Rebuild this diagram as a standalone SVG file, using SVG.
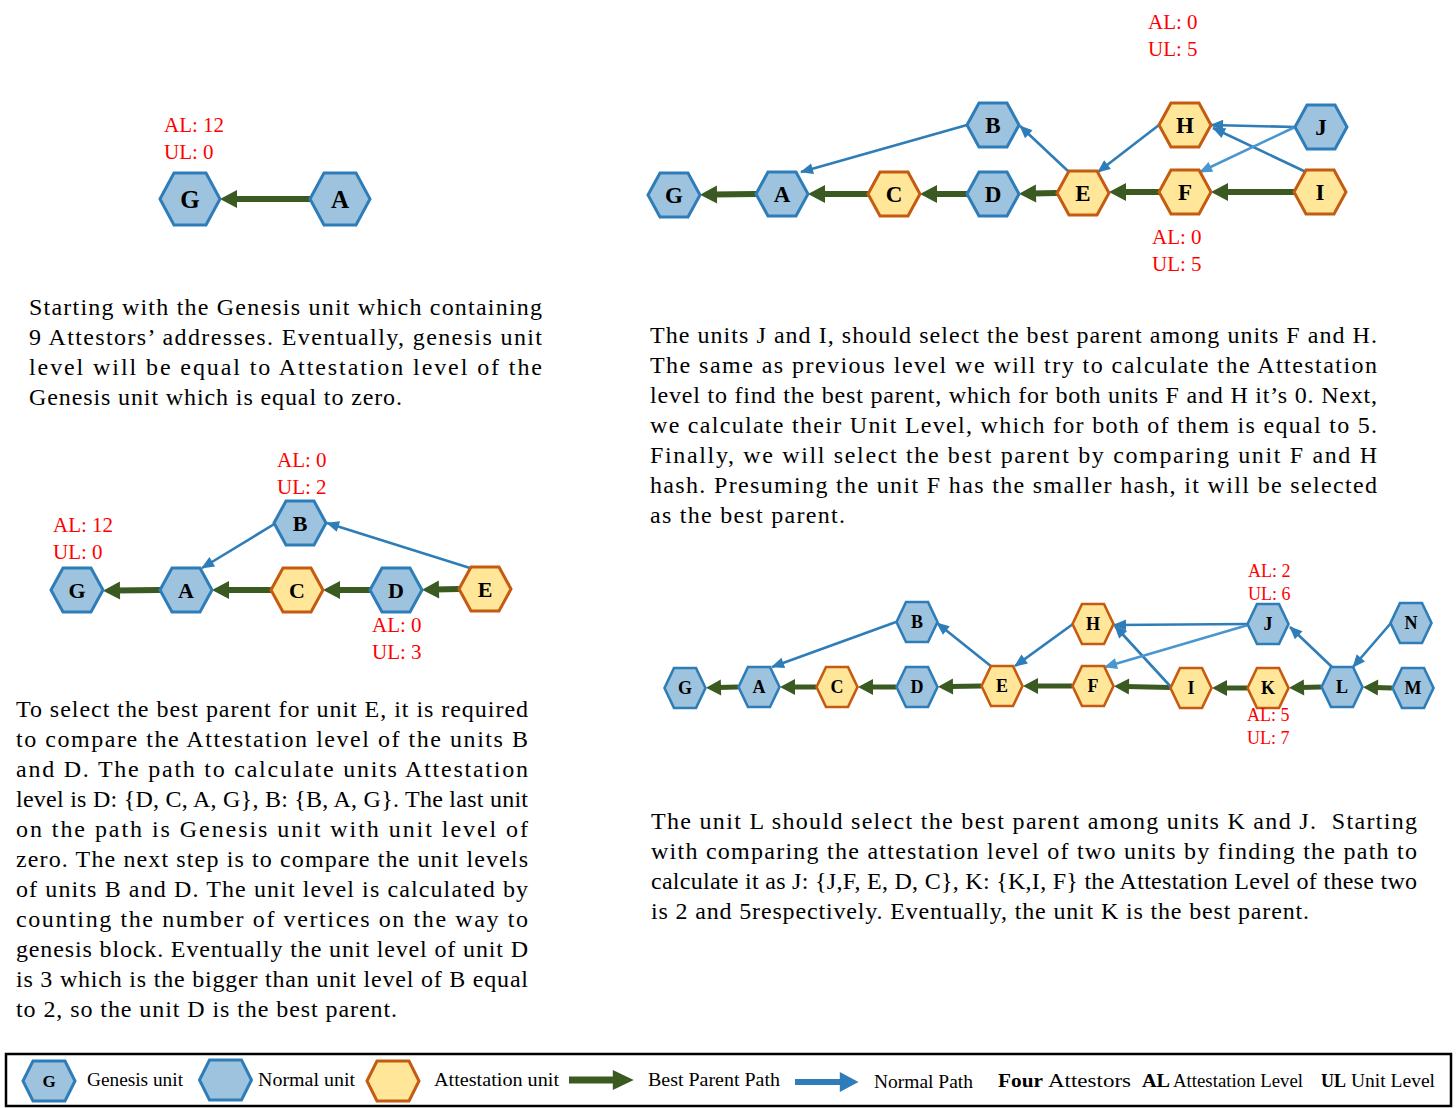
<svg xmlns="http://www.w3.org/2000/svg" xmlns:xlink="http://www.w3.org/1999/xlink" width="1456" height="1108" viewBox="0 0 1456 1108">
<style>
.n{fill:#9DC3DE;stroke:#2E7DB8;stroke-width:3}
.t{fill:#FFE699;stroke:#C55A11;stroke-width:3}
.ns{fill:#9DC3DE;stroke:#2E7DB8;stroke-width:2.6}
.ts{fill:#FFE699;stroke:#C55A11;stroke-width:2.6}
.lb{font-family:"Liberation Serif",serif;font-weight:bold;fill:#000;text-anchor:middle}
.red{font-family:"Liberation Serif",serif;fill:#FF0000;font-size:21px}
.reds{font-family:"Liberation Serif",serif;fill:#FF0000;font-size:18px}
.p{font-family:"Liberation Serif",serif;font-size:24px;fill:#000}
.lg{font-family:"Liberation Serif",serif;font-size:19px;fill:#000}
.lgb{font-family:"Liberation Serif",serif;font-size:19px;font-weight:bold;fill:#000}
.g{stroke:#3A5A22;stroke-width:6;fill:none}
.gs{stroke:#3A5A22;stroke-width:5;fill:none}
.b{stroke:#2E7DB8;stroke-width:2.6;fill:none}
.bl{stroke:#4A96CE;stroke-width:2.6;fill:none}
</style>
<defs>
<polygon id="hL" points="-30,0 -16,-26 16,-26 30,0 16,26 -16,26"/>
<polygon id="hM" points="-26,0 -14,-22 14,-22 26,0 14,22 -14,22"/>
<polygon id="hS" points="-20.5,0 -11,-20 11,-20 20.5,0 11,20 -11,20"/>
<polygon id="hG" points="-26,0 -16,-20 16,-20 26,0 16,20 -16,20"/>
<marker id="mg" markerUnits="userSpaceOnUse" markerWidth="20" markerHeight="20" viewBox="0 -10 18 20" refX="4" refY="0" orient="auto" overflow="visible"><path d="M0,-9 L17,0 L0,9 z" fill="#3A5A22"/></marker>
<marker id="mgs" markerUnits="userSpaceOnUse" markerWidth="20" markerHeight="20" viewBox="0 -10 18 20" refX="3" refY="0" orient="auto" overflow="visible"><path d="M0,-8 L15,0 L0,8 z" fill="#3A5A22"/></marker>
<marker id="mb" markerUnits="userSpaceOnUse" markerWidth="16" markerHeight="16" viewBox="0 -8 16 16" refX="12" refY="0" orient="auto" overflow="visible"><path d="M0,-5.5 L13,0 L0,5.5 z" fill="#2E7DB8"/></marker>
<marker id="mbl" markerUnits="userSpaceOnUse" markerWidth="16" markerHeight="16" viewBox="0 -8 16 16" refX="12" refY="0" orient="auto" overflow="visible"><path d="M0,-5.5 L13,0 L0,5.5 z" fill="#4A96CE"/></marker>
<marker id="mgL" markerUnits="userSpaceOnUse" markerWidth="22" markerHeight="22" viewBox="0 -10 20 20" refX="2" refY="0" orient="auto" overflow="visible"><path d="M0,-9 L19,0 L0,9 z" fill="#3A5A22"/></marker>
<marker id="mbL" markerUnits="userSpaceOnUse" markerWidth="22" markerHeight="22" viewBox="0 -10 20 20" refX="2" refY="0" orient="auto" overflow="visible"><path d="M0,-9 L17,0 L0,9 z" fill="#2E7DB8"/></marker>
</defs>
<rect width="1456" height="1108" fill="#fff"/>

<!-- Connectors -->
<g id="connectors">
  <line class="g" x1="310" y1="199" x2="233" y2="199" marker-end="url(#mg)"/>
  <line class="g" x1="756" y1="194" x2="713" y2="194.5" marker-end="url(#mg)"/>
  <line class="g" x1="868" y1="194" x2="821" y2="194" marker-end="url(#mg)"/>
  <line class="g" x1="967" y1="194" x2="933" y2="194" marker-end="url(#mg)"/>
  <line class="g" x1="1057" y1="193" x2="1032" y2="193.5" marker-end="url(#mg)"/>
  <line class="g" x1="1159" y1="192" x2="1122" y2="192" marker-end="url(#mg)"/>
  <line class="g" x1="1294" y1="192" x2="1224" y2="192" marker-end="url(#mg)"/>
  <line class="b" x1="967" y1="125" x2="801" y2="172" marker-end="url(#mb)"/>
  <line class="b" x1="1069" y1="172" x2="1020" y2="126" marker-end="url(#mb)"/>
  <line class="b" x1="1159" y1="125" x2="1098" y2="172" marker-end="url(#mb)"/>
  <line class="b" x1="1295" y1="127" x2="1211" y2="125" marker-end="url(#mb)"/>
  <line class="b" x1="1306" y1="172" x2="1213" y2="128" marker-end="url(#mb)"/>
  <line class="bl" x1="1295" y1="127" x2="1200" y2="172" marker-end="url(#mbl)"/>
  <line class="g" x1="160" y1="590" x2="116" y2="590.5" marker-end="url(#mg)"/>
  <line class="g" x1="271" y1="590" x2="225" y2="590" marker-end="url(#mg)"/>
  <line class="g" x1="370" y1="590" x2="336" y2="590" marker-end="url(#mg)"/>
  <line class="g" x1="459" y1="589" x2="435" y2="589.5" marker-end="url(#mg)"/>
  <line class="b" x1="276" y1="523" x2="202" y2="568" marker-end="url(#mb)"/>
  <line class="b" x1="470" y1="568" x2="327" y2="523" marker-end="url(#mb)"/>
  <line class="gs" x1="738" y1="687" x2="718" y2="687.5" marker-end="url(#mgs)"/>
  <line class="gs" x1="816" y1="687" x2="792" y2="687" marker-end="url(#mgs)"/>
  <line class="gs" x1="896" y1="687" x2="870" y2="687" marker-end="url(#mgs)"/>
  <line class="gs" x1="981" y1="686" x2="950" y2="686.5" marker-end="url(#mgs)"/>
  <line class="gs" x1="1072" y1="686" x2="1035" y2="686" marker-end="url(#mgs)"/>
  <line class="gs" x1="1170" y1="687.5" x2="1126" y2="686.5" marker-end="url(#mgs)"/>
  <line class="gs" x1="1247" y1="688" x2="1224" y2="688" marker-end="url(#mgs)"/>
  <line class="gs" x1="1321" y1="687" x2="1301" y2="687.5" marker-end="url(#mgs)"/>
  <line class="gs" x1="1392" y1="688" x2="1375" y2="687.5" marker-end="url(#mgs)"/>
  <line class="b" x1="896" y1="622" x2="772" y2="667" marker-end="url(#mb)"/>
  <line class="b" x1="992" y1="667" x2="937" y2="623" marker-end="url(#mb)"/>
  <line class="b" x1="1073" y1="624" x2="1015" y2="666" marker-end="url(#mb)"/>
  <line class="b" x1="1248" y1="624" x2="1114" y2="625" marker-end="url(#mb)"/>
  <line class="b" x1="1171" y1="687" x2="1115" y2="626" marker-end="url(#mb)"/>
  <line class="bl" x1="1248" y1="625" x2="1105" y2="667" marker-end="url(#mbl)"/>
  <line class="b" x1="1332" y1="667" x2="1290" y2="627" marker-end="url(#mb)"/>
  <line class="b" x1="1391" y1="623" x2="1353" y2="667" marker-end="url(#mb)"/>
</g>

<!-- Top-left diagram -->
<g id="tl-G"><use href="#hL" class="n" x="190" y="199"/><text class="lb" x="190" y="208" font-size="25">G</text></g>
<g id="tl-A"><use href="#hL" class="n" x="340" y="199"/><text class="lb" x="340" y="208" font-size="25">A</text></g>
<g id="tl-labels"><text class="red" x="164" y="132">AL: 12</text><text class="red" x="164" y="159">UL: 0</text></g>

<!-- Top-right diagram -->
<g id="tr-G"><use href="#hM" class="n" x="674" y="195"/><text class="lb" x="674" y="203" font-size="23">G</text></g>
<g id="tr-A"><use href="#hM" class="n" x="782" y="194"/><text class="lb" x="782" y="202" font-size="23">A</text></g>
<g id="tr-C"><use href="#hM" class="t" x="894" y="194"/><text class="lb" x="894" y="202" font-size="23">C</text></g>
<g id="tr-D"><use href="#hM" class="n" x="993" y="194"/><text class="lb" x="993" y="202" font-size="23">D</text></g>
<g id="tr-B"><use href="#hM" class="n" x="993" y="125"/><text class="lb" x="993" y="133" font-size="23">B</text></g>
<g id="tr-E"><use href="#hM" class="t" x="1083" y="193"/><text class="lb" x="1083" y="201" font-size="23">E</text></g>
<g id="tr-H"><use href="#hM" class="t" x="1185" y="125"/><text class="lb" x="1185" y="133" font-size="23">H</text></g>
<g id="tr-F"><use href="#hM" class="t" x="1185" y="192"/><text class="lb" x="1185" y="200" font-size="23">F</text></g>
<g id="tr-J"><use href="#hM" class="n" x="1321" y="127"/><text class="lb" x="1321" y="135" font-size="23">J</text></g>
<g id="tr-I"><use href="#hM" class="t" x="1320" y="192"/><text class="lb" x="1320" y="200" font-size="23">I</text></g>
<g id="tr-labels">
<text class="red" x="1148" y="29">AL: 0</text><text class="red" x="1148" y="56">UL: 5</text>
<text class="red" x="1152" y="244">AL: 0</text><text class="red" x="1152" y="271">UL: 5</text>
</g>

<!-- Middle-left diagram -->
<g id="ml-G"><use href="#hM" class="n" x="77" y="590"/><text class="lb" x="77" y="598" font-size="22">G</text></g>
<g id="ml-A"><use href="#hM" class="n" x="186" y="590"/><text class="lb" x="186" y="598" font-size="22">A</text></g>
<g id="ml-C"><use href="#hM" class="t" x="297" y="590"/><text class="lb" x="297" y="598" font-size="22">C</text></g>
<g id="ml-D"><use href="#hM" class="n" x="396" y="590"/><text class="lb" x="396" y="598" font-size="22">D</text></g>
<g id="ml-E"><use href="#hM" class="t" x="485" y="589"/><text class="lb" x="485" y="597" font-size="22">E</text></g>
<g id="ml-B"><use href="#hM" class="n" x="300" y="523"/><text class="lb" x="300" y="531" font-size="22">B</text></g>
<g id="ml-labels">
<text class="red" x="277" y="467">AL: 0</text><text class="red" x="277" y="494">UL: 2</text>
<text class="red" x="53" y="532">AL: 12</text><text class="red" x="53" y="559">UL: 0</text>
<text class="red" x="372" y="632">AL: 0</text><text class="red" x="372" y="659">UL: 3</text>
</g>

<!-- Bottom-right diagram -->
<g id="br-G"><use href="#hS" class="ns" x="685" y="688"/><text class="lb" x="685" y="694" font-size="18">G</text></g>
<g id="br-A"><use href="#hS" class="ns" x="759" y="687"/><text class="lb" x="759" y="693" font-size="18">A</text></g>
<g id="br-C"><use href="#hS" class="ts" x="837" y="687"/><text class="lb" x="837" y="693" font-size="18">C</text></g>
<g id="br-D"><use href="#hS" class="ns" x="917" y="687"/><text class="lb" x="917" y="693" font-size="18">D</text></g>
<g id="br-E"><use href="#hS" class="ts" x="1002" y="686"/><text class="lb" x="1002" y="692" font-size="18">E</text></g>
<g id="br-F"><use href="#hS" class="ts" x="1093" y="686"/><text class="lb" x="1093" y="692" font-size="18">F</text></g>
<g id="br-I"><use href="#hS" class="ts" x="1191" y="688"/><text class="lb" x="1191" y="694" font-size="18">I</text></g>
<g id="br-K"><use href="#hS" class="ts" x="1268" y="688"/><text class="lb" x="1268" y="694" font-size="18">K</text></g>
<g id="br-L"><use href="#hS" class="ns" x="1342" y="687"/><text class="lb" x="1342" y="693" font-size="18">L</text></g>
<g id="br-M"><use href="#hS" class="ns" x="1413" y="688"/><text class="lb" x="1413" y="694" font-size="18">M</text></g>
<g id="br-B"><use href="#hS" class="ns" x="917" y="622"/><text class="lb" x="917" y="628" font-size="18">B</text></g>
<g id="br-H"><use href="#hS" class="ts" x="1093" y="624"/><text class="lb" x="1093" y="630" font-size="18">H</text></g>
<g id="br-J"><use href="#hS" class="ns" x="1268" y="624"/><text class="lb" x="1268" y="630" font-size="18">J</text></g>
<g id="br-N"><use href="#hS" class="ns" x="1411" y="623"/><text class="lb" x="1411" y="629" font-size="18">N</text></g>
<g id="br-labels">
<text class="reds" x="1248" y="577">AL: 2</text><text class="reds" x="1248" y="600">UL: 6</text>
<text class="reds" x="1247" y="721">AL: 5</text><text class="reds" x="1247" y="744">UL: 7</text>
</g>

<!-- Paragraphs -->
<g id="text1" class="p">
<text x="29" y="315" textLength="513" lengthAdjust="spacing">Starting with the Genesis unit which containing</text>
<text x="29" y="345" textLength="513" lengthAdjust="spacing">9 Attestors’ addresses. Eventually, genesis unit</text>
<text x="29" y="375" textLength="513" lengthAdjust="spacing">level will be equal to Attestation level of the</text>
<text x="29" y="405" textLength="373" lengthAdjust="spacing">Genesis unit which is equal to zero.</text>
</g>
<g id="text2" class="p">
<text x="650" y="343" textLength="727" lengthAdjust="spacing">The units J and I, should select the best parent among units F and H.</text>
<text x="650" y="373" textLength="727" lengthAdjust="spacing">The same as previous level we will try to calculate the Attestation</text>
<text x="650" y="403" textLength="727" lengthAdjust="spacing">level to find the best parent, which for both units F and H it’s 0. Next,</text>
<text x="650" y="433" textLength="727" lengthAdjust="spacing">we calculate their Unit Level, which for both of them is equal to 5.</text>
<text x="650" y="463" textLength="727" lengthAdjust="spacing">Finally, we will select the best parent by comparing unit F and H</text>
<text x="650" y="493" textLength="727" lengthAdjust="spacing">hash. Presuming the unit F has the smaller hash, it will be selected</text>
<text x="650" y="523" textLength="195" lengthAdjust="spacing">as the best parent.</text>
</g>
<g id="text3" class="p">
<text x="16" y="717" textLength="512" lengthAdjust="spacing">To select the best parent for unit E, it is required</text>
<text x="16" y="747" textLength="512" lengthAdjust="spacing">to compare the Attestation level of the units B</text>
<text x="16" y="777" textLength="512" lengthAdjust="spacing">and D. The path to calculate units Attestation</text>
<text x="16" y="807" textLength="512" lengthAdjust="spacing">level is D: {D, C, A, G}, B: {B, A, G}. The last unit</text>
<text x="16" y="837" textLength="512" lengthAdjust="spacing">on the path is Genesis unit with unit level of</text>
<text x="16" y="867" textLength="512" lengthAdjust="spacing">zero. The next step is to compare the unit levels</text>
<text x="16" y="897" textLength="512" lengthAdjust="spacing">of units B and D. The unit level is calculated by</text>
<text x="16" y="927" textLength="512" lengthAdjust="spacing">counting the number of vertices on the way to</text>
<text x="16" y="957" textLength="512" lengthAdjust="spacing">genesis block. Eventually the unit level of unit D</text>
<text x="16" y="987" textLength="512" lengthAdjust="spacing">is 3 which is the bigger than unit level of B equal</text>
<text x="16" y="1017" textLength="381" lengthAdjust="spacing">to 2, so the unit D is the best parent.</text>
</g>
<g id="text4" class="p">
<text x="651" y="829" textLength="766" lengthAdjust="spacing" style="white-space:pre">The unit L should select the best parent among units K and J.  Starting</text>
<text x="651" y="859" textLength="766" lengthAdjust="spacing">with comparing the attestation level of two units by finding the path to</text>
<text x="651" y="889" textLength="766" lengthAdjust="spacing">calculate it as J: {J,F, E, D, C}, K: {K,I, F} the Attestation Level of these two</text>
<text x="651" y="919" textLength="658" lengthAdjust="spacing">is 2 and 5respectively. Eventually, the unit K is the best parent.</text>
</g>

<!-- Legend -->
<g id="legend">
<rect x="6" y="1054" width="1445" height="52" fill="none" stroke="#000" stroke-width="2.5"/>
<g id="lg-genesis"><use href="#hG" class="n" x="49" y="1081"/><text class="lb" x="49" y="1087" font-size="17">G</text></g>
<text class="lg" x="87" y="1086" textLength="96" lengthAdjust="spacingAndGlyphs">Genesis unit</text>
<g id="lg-normal"><use href="#hG" class="n" x="225.5" y="1080"/></g>
<text class="lg" x="258" y="1086" textLength="97" lengthAdjust="spacingAndGlyphs">Normal unit</text>
<g id="lg-attest"><use href="#hG" class="t" x="393" y="1081"/></g>
<text class="lg" x="434" y="1086" textLength="125" lengthAdjust="spacingAndGlyphs">Attestation unit</text>
<line x1="569" y1="1080" x2="615" y2="1080" stroke="#3A5A22" stroke-width="7" marker-end="url(#mgL)"/>
<text class="lg" x="648" y="1086" textLength="132" lengthAdjust="spacingAndGlyphs">Best Parent Path</text>
<line x1="795" y1="1082" x2="842" y2="1082" stroke="#2E7DB8" stroke-width="6" marker-end="url(#mbL)"/>
<text class="lg" x="874" y="1088" textLength="99" lengthAdjust="spacingAndGlyphs">Normal Path</text>
<text class="lgb" x="998" y="1087" textLength="45" lengthAdjust="spacingAndGlyphs">Four</text>
<text class="lg" x="1048" y="1087" textLength="83" lengthAdjust="spacingAndGlyphs">Attestors</text>
<text class="lgb" x="1142" y="1087" textLength="28" lengthAdjust="spacingAndGlyphs">AL</text>
<text class="lg" x="1173" y="1087" textLength="130" lengthAdjust="spacingAndGlyphs">Attestation Level</text>
<text class="lgb" x="1321" y="1087" textLength="25" lengthAdjust="spacingAndGlyphs">UL</text>
<text class="lg" x="1351" y="1087" textLength="84" lengthAdjust="spacingAndGlyphs">Unit Level</text>
</g>
</svg>
